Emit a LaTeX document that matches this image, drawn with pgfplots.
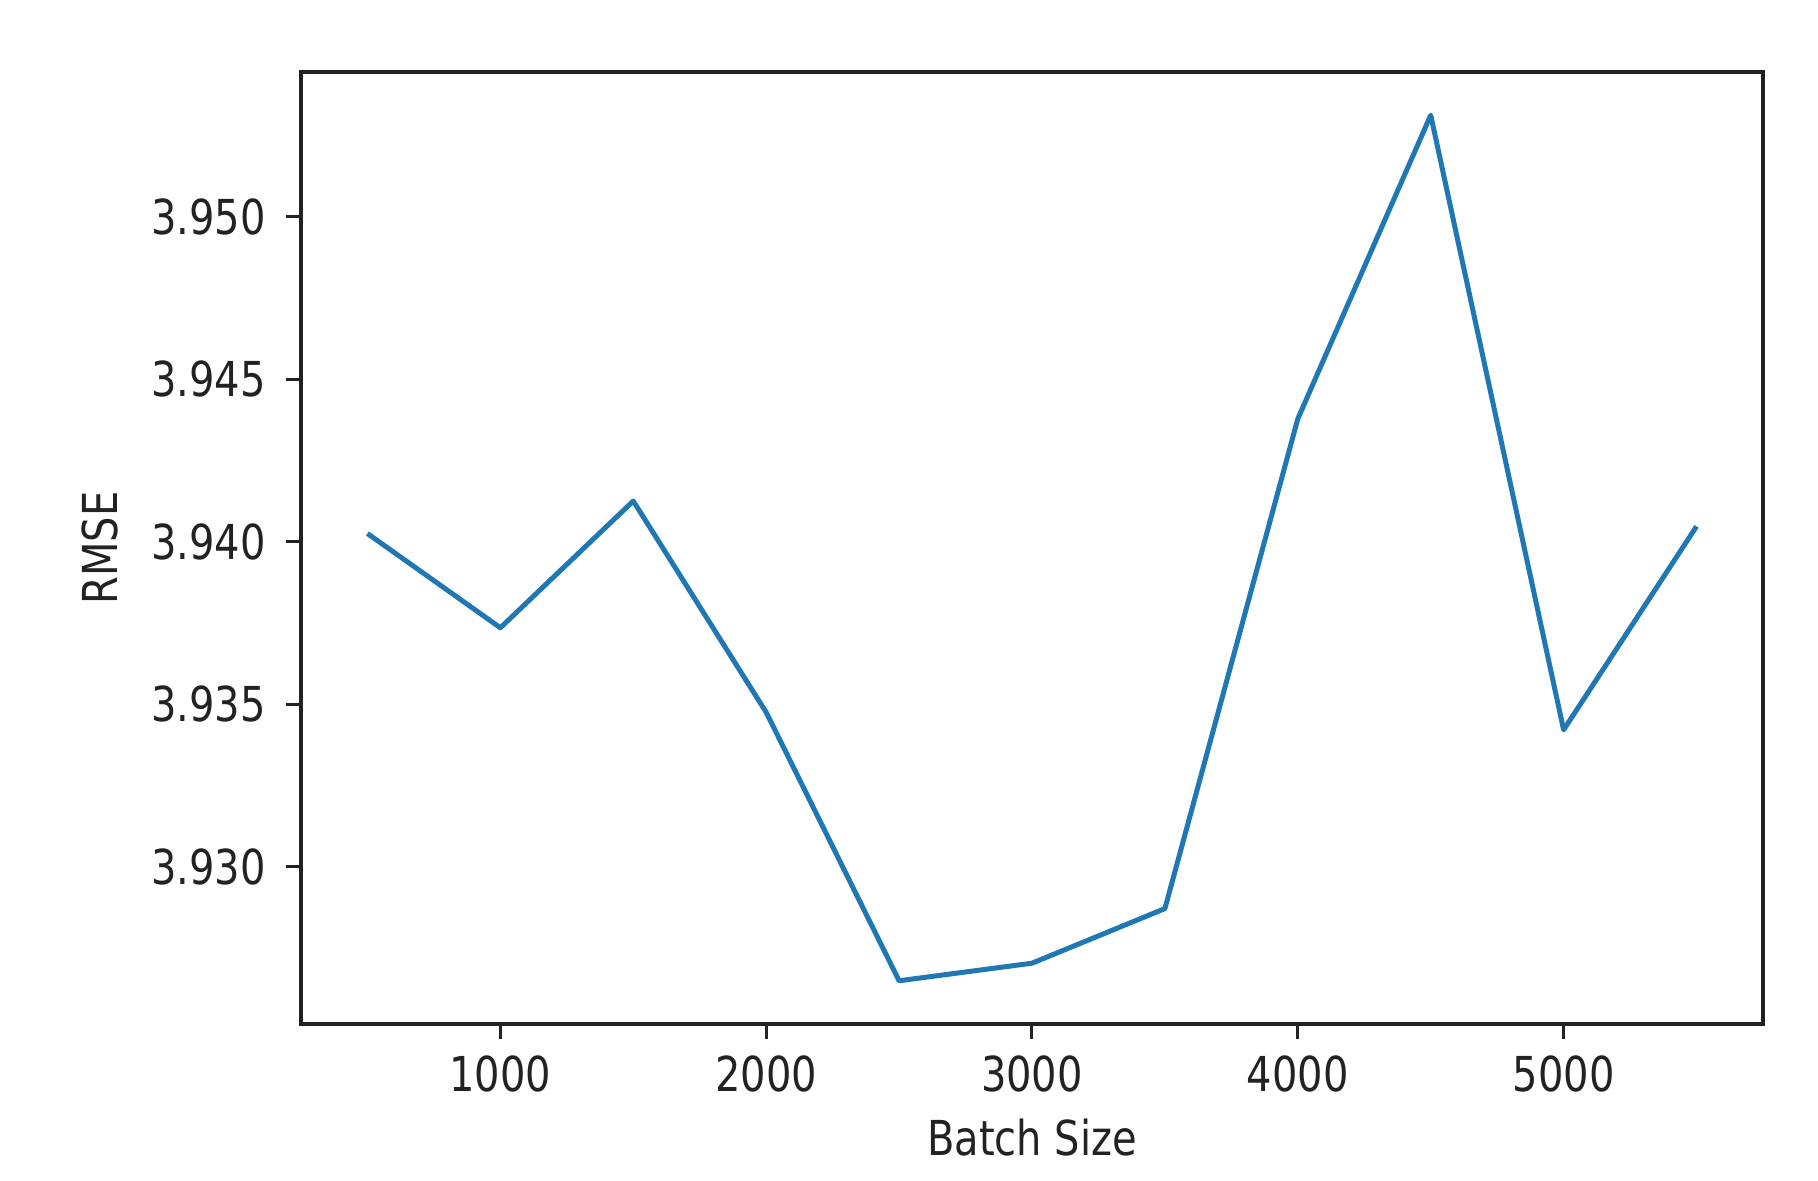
\documentclass[border=0pt]{standalone}
\usepackage{fontspec}
\setmainfont{DejaVu Sans}[FakeStretch=0.83]
\usepackage{pgfplots}
\pgfplotsset{compat=1.18}
\definecolor{mplblue}{HTML}{1F77B4}
\definecolor{axgray}{HTML}{222222}
\begin{document}
\fontsize{13.7}{16}\selectfont
\begin{tikzpicture}
\begin{axis}[
  at={(3.01cm,1.57cm)}, anchor=south west,
  scale only axis,
  width=14.62cm, height=9.52cm,
  xmin=250, xmax=5750,
  ymin=3.92516, ymax=3.95445,
  xtick={1000,2000,3000,4000,5000},
  ytick={3.930,3.935,3.940,3.945,3.950},
  tick align=outside,
  tick pos=left,
  major tick length=0.15cm,
  axis line style={axgray, line width=0.033cm},
  every tick/.style={axgray, line width=0.03cm},
  /pgf/number format/assume math mode=true,
  xticklabel style={/pgf/number format/1000 sep={}, font=\fontsize{13.7}{16}\selectfont, color=axgray},
  yticklabel style={/pgf/number format/fixed, /pgf/number format/fixed zerofill, /pgf/number format/precision=3, font=\fontsize{13.7}{16}\selectfont, color=axgray, xshift=-0.035cm},
  scaled y ticks=false,
  xlabel={Batch Size},
  ylabel={RMSE},
  xlabel style={yshift=0.06cm},
  label style={font=\fontsize{13.7}{16}\selectfont, color=axgray},
]
\addplot[mplblue, line width=0.05cm, line join=round] coordinates {
(500,3.94025)
(1000,3.93735)
(1500,3.94125)
(2000,3.93475)
(2500,3.92649)
(3000,3.92703)
(3500,3.92871)
(4000,3.94378)
(4500,3.95312)
(5000,3.93421)
(5500,3.94047)
};
\end{axis}
\useasboundingbox (0,0) rectangle (18.18cm,11.81cm);
\end{tikzpicture}
\end{document}
